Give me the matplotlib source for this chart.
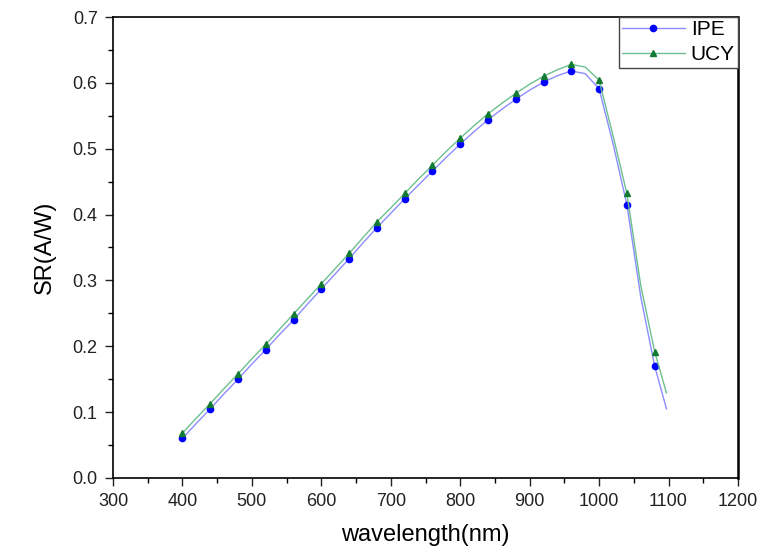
import matplotlib.pyplot as plt
from matplotlib.ticker import MultipleLocator

plt.rcParams['font.family'] = ['Liberation Sans', 'DejaVu Sans']

# wavelength grid (nm), markers drawn on every second point
wavelength = [400, 420, 440, 460, 480, 500, 520, 540, 560, 580, 600, 620,
              640, 660, 680, 700, 720, 740, 760, 780, 800, 820, 840, 860,
              880, 900, 920, 940, 960, 980, 1000, 1020, 1040, 1060, 1080, 1097]

ipe = [0.060, 0.083, 0.105, 0.128, 0.150, 0.173, 0.195, 0.218, 0.240, 0.264,
       0.287, 0.310, 0.333, 0.357, 0.380, 0.402, 0.424, 0.445, 0.466, 0.487,
       0.507, 0.526, 0.544, 0.560, 0.575, 0.589, 0.601, 0.611, 0.618, 0.614,
       0.591, 0.508, 0.415, 0.275, 0.170, 0.105]

ucy = [0.068, 0.091, 0.113, 0.136, 0.158, 0.181, 0.203, 0.226, 0.249, 0.272,
       0.295, 0.318, 0.341, 0.365, 0.389, 0.410, 0.432, 0.454, 0.475, 0.496,
       0.516, 0.535, 0.553, 0.569, 0.584, 0.598, 0.610, 0.620, 0.628, 0.624,
       0.604, 0.520, 0.432, 0.292, 0.192, 0.129]

fig = plt.figure(figsize=(7.57, 5.5), dpi=100)
ax = fig.add_axes([113 / 757, 1 - 478 / 550, (738 - 113) / 757, (478 - 17) / 550])

ax.plot(wavelength, ipe, color='#8c8cff', lw=1.0, marker='o', ms=4.5,
        mfc='#0000ff', mec='#0000ff', markevery=(0, 2), label='IPE')
ax.plot(wavelength, ucy, color='#6cc090', lw=1.0, marker='^', ms=5,
        mfc='#127a32', mec='#127a32', markevery=(0, 2), label='UCY')

ax.set_xlim(300, 1200)
ax.set_ylim(0, 0.7)
ax.xaxis.set_major_locator(MultipleLocator(100))
ax.xaxis.set_minor_locator(MultipleLocator(50))
ax.yaxis.set_major_locator(MultipleLocator(0.1))
ax.yaxis.set_minor_locator(MultipleLocator(0.05))
ax.yaxis.set_major_formatter(plt.FormatStrFormatter('%.1f'))

ax.tick_params(which='major', direction='out', length=6, width=1,
               labelsize=13, colors='#222222', pad=5)
ax.tick_params(which='minor', direction='out', length=3.5, width=1)
for s in ax.spines.values():
    s.set_linewidth(1.2)
ax.spines['right'].set_linewidth(1.8)

ax.set_xlabel('wavelength(nm)', fontsize=17, labelpad=10)
ax.set_ylabel('SR(A/W)', fontsize=17, labelpad=12)

leg = ax.legend(loc='upper right', fontsize=15, handlelength=3.0,
                borderaxespad=0, fancybox=False, framealpha=1,
                edgecolor='#444444', borderpad=0.15, labelspacing=0.3,
                handletextpad=0.3)
leg.get_frame().set_linewidth(1.0)

fig.savefig('out.png', dpi=100)
